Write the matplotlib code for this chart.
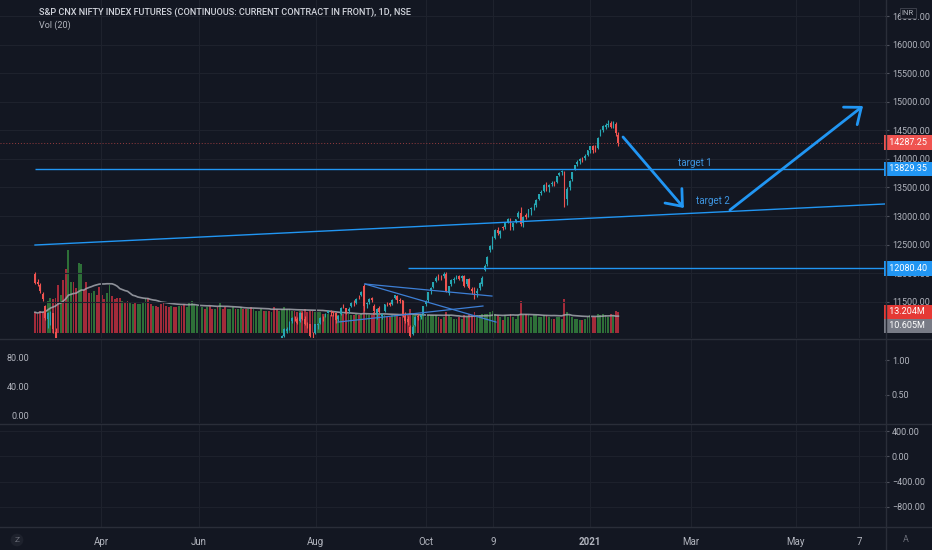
import numpy as np
import pandas as pd
import matplotlib
matplotlib.use("Agg")
import matplotlib.pyplot as plt

# ---- data: daily bars (Feb 24 2020 .. Jan 18 2021), bar index on x ----
opens = [
    # feb / mar
    11990, 11840, 11790, 11640, 11420, 11190, 11180, 11290, 10960, 10700, 10420, 10300, 9550,
    8600, 9450, 9600, 9300, 8300, 8250, 8400, 7950, 8000, 8000, 8450, 8700, 8600,
    # apr
    8580, 8300, 8450, 8700, 9150, 9050, 9050, 9100, 9050, 9250, 9200, 9050, 9250, 9250, 9200, 9320, 9420, 9700,
    # may
    9550, 9300, 9260, 9250, 9300, 9300, 9530, 9300, 9150, 9180, 9370, 9160, 9070, 9150, 9080, 8950, 9100, 9350, 9530,
    # jun
    9600, 9880, 10000, 10070, 10040, 10200, 10170, 10000, 10070, 9750, 9900, 9900, 9900, 9920, 10100, 10320,
    10280, 10330, 10400, 10350, 10320, 10350,
    # jul
    10350, 10450, 10570, 10650, 10770, 10720, 10830, 10780, 10800, 10650, 10660, 10760, 10900, 10980, 11020,
    11150, 11200, 11200, 11150, 11300, 11200, 11120, 11100,
    # aug
    10900, 10950, 11080, 11120, 11230, 11260, 11300, 11320, 11320, 11300, 11200, 11280, 11420, 11380, 11330,
    11420, 11480, 11480, 11570, 11610, 11780,
    # sep
    11450, 11490, 11560, 11420, 11300, 11380, 11250, 11330, 11480, 11480, 11450, 11560, 11600, 11520, 11520,
    11250, 11200, 11050, 10930, 11080, 11250, 11230,
    # oct
    11280, 11450, 11520, 11680, 11760, 11860, 11950, 11950, 11950, 11990, 11650, 11800, 11880, 11930, 11950,
    11910, 11950, 11800, 11900, 11720, 11690,
    # nov
    11650, 11730, 11800, 12050, 12150, 12400, 12500, 12620, 12760, 12680, 12800, 12800, 12900, 12950, 12800,
    12900, 12980, 13060, 12880, 13020,
    # dec
    13000, 13130, 13150, 13200, 13300, 13400, 13430, 13560, 13500, 13560, 13600, 13600, 13720, 13780, 13780,
    13300, 13500, 13650, 13820, 13920, 13960, 14010,
    # jan
    14020, 14070, 14150, 14230, 14160, 14200, 14420, 14510, 14560, 14600, 14630, 14590, 14620, 14420,
]
highs = [
    12010, 11890, 11830, 11670, 11440, 11320, 11340, 11300, 11040, 10760, 10550, 10320, 9620,
    9950, 9700, 9650, 9380, 8600, 8800, 8450, 8050, 8200, 8380, 8750, 8800, 8620,
    8600, 8330, 8820, 8820, 9160, 9080, 9130, 9150, 9280, 9300, 9220, 9220, 9330, 9270, 9300, 9400, 9580, 9890,
    9570, 9350, 9310, 9260, 9320, 9350, 9580, 9330, 9240, 9410, 9390, 9180, 9150, 9200, 9100, 9060, 9320, 9520, 9600,
    9850, 9990, 10080, 10090, 10160, 10310, 10200, 10140, 10090, 9990, 9950, 9960, 9950, 10060, 10260, 10340,
    10310, 10460, 10430, 10360, 10400, 10390,
    10450, 10570, 10620, 10780, 10800, 10810, 10850, 10800, 10810, 10700, 10760, 10920, 11040, 11050, 11150,
    11230, 11240, 11230, 11310, 11320, 11250, 11140, 11110,
    10960, 11110, 11120, 11230, 11250, 11300, 11350, 11350, 11330, 11310, 11270, 11400, 11460, 11390, 11400,
    11490, 11520, 11560, 11610, 11690, 11800,
    11500, 11560, 11580, 11450, 11380, 11430, 11300, 11460, 11500, 11500, 11540, 11620, 11610, 11560, 11530,
    11310, 11250, 11080, 11080, 11250, 11280, 11280,
    11430, 11520, 11670, 11760, 11850, 11940, 11990, 11970, 12010, 12020, 11780, 11900, 11930, 11960, 11970,
    11960, 11960, 11900, 11920, 11760, 11750,
    11740, 11840, 11940, 12150, 12300, 12490, 12650, 12770, 12800, 12750, 12830, 12900, 12960, 12970, 12880,
    12950, 13080, 13150, 13000, 13050,
    13130, 13160, 13220, 13290, 13390, 13450, 13560, 13590, 13560, 13610, 13620, 13710, 13780, 13800, 13790,
    13500, 13640, 13780, 13900, 13980, 14020, 14040,
    14080, 14160, 14230, 14250, 14250, 14380, 14520, 14600, 14640, 14680, 14660, 14670, 14650, 14480,
]
lows = [
    11800, 11770, 11650, 11510, 11170, 11040, 11080, 10950, 10760, 10300, 10380, 9520, 8950,
    8560, 9100, 9150, 8450, 8100, 8000, 7550, 7520, 7900, 7950, 8380, 8400, 8200,
    8250, 8050, 8420, 8680, 8980, 8900, 8900, 8900, 9020, 9100, 8950, 9000, 9200, 9110, 9150, 9280, 9400, 9690,
    9260, 9150, 9170, 9110, 9200, 9150, 9370, 9170, 9100, 9170, 9150, 9050, 8990, 9020, 8860, 8900, 9090, 9330, 9440,
    9590, 9850, 9960, 9960, 10000, 10150, 10010, 9980, 9880, 9560, 9750, 9720, 9830, 9880, 10090, 10190,
    10220, 10320, 10280, 10200, 10250, 10260,
    10320, 10430, 10540, 10640, 10680, 10690, 10740, 10720, 10580, 10560, 10600, 10750, 10870, 10950, 11000,
    11120, 11150, 11100, 11140, 11170, 11080, 11040, 10880,
    10850, 10930, 11010, 11110, 11150, 11230, 11290, 11250, 11250, 11120, 11150, 11270, 11380, 11280, 11300,
    11400, 11430, 11460, 11540, 11600, 11340,
    11380, 11460, 11490, 11300, 11200, 11300, 11190, 11310, 11420, 11420, 11440, 11540, 11480, 11470, 11220,
    11130, 11080, 10880, 10910, 11070, 11180, 11190,
    11270, 11420, 11500, 11640, 11730, 11840, 11880, 11870, 11920, 11660, 11620, 11780, 11830, 11890, 11870,
    11860, 11760, 11780, 11720, 11640, 11550,
    11580, 11700, 11780, 12030, 12130, 12370, 12420, 12600, 12660, 12620, 12760, 12780, 12880, 12760, 12760,
    12870, 12960, 12820, 12800, 12950,
    12980, 13020, 13100, 13150, 13280, 13360, 13420, 13440, 13420, 13530, 13530, 13580, 13700, 13720, 13150,
    13200, 13450, 13620, 13800, 13880, 13920, 13950,
    13990, 14050, 14100, 14100, 14120, 14180, 14400, 14480, 14520, 14560, 14540, 14550, 14400, 14230,
]
closes = [
    11830, 11800, 11680, 11540, 11210, 11290, 11310, 11010, 10820, 10460, 10480, 9600, 9180,
    9900, 9600, 9200, 8480, 8520, 8750, 7620, 7800, 7950, 8330, 8650, 8640, 8250,
    8270, 8090, 8790, 8800, 9000, 8990, 8920, 8980, 9260, 9240, 8990, 9190, 9300, 9150, 9280, 9380, 9560, 9860,
    9290, 9200, 9270, 9200, 9250, 9240, 9380, 9200, 9140, 9380, 9160, 9070, 9110, 9060, 8880, 9030, 9300, 9500, 9580,
    9830, 9980, 10060, 10030, 10140, 10170, 10050, 10120, 9900, 9970, 9820, 9870, 9910, 10050, 10250, 10230,
    10300, 10450, 10380, 10290, 10380, 10300,
    10430, 10560, 10600, 10760, 10720, 10800, 10770, 10790, 10600, 10620, 10740, 10900, 11020, 11010, 11130,
    11210, 11190, 11130, 11300, 11200, 11100, 11070, 10900,
    10890, 11100, 11100, 11210, 11220, 11280, 11330, 11310, 11300, 11180, 11250, 11390, 11410, 11310, 11370,
    11470, 11470, 11550, 11560, 11660, 11420,
    11480, 11540, 11530, 11340, 11360, 11320, 11280, 11450, 11470, 11440, 11530, 11610, 11520, 11510, 11250,
    11160, 11140, 10900, 11060, 11230, 11230, 11260,
    11420, 11500, 11660, 11740, 11840, 11920, 11940, 11940, 11980, 11690, 11770, 11880, 11900, 11940, 11900,
    11940, 11780, 11890, 11740, 11680, 11650,
    11690, 11830, 11920, 12130, 12280, 12470, 12640, 12760, 12700, 12730, 12790, 12880, 12950, 12780, 12870,
    12940, 13060, 12860, 12990, 12980,
    13120, 13140, 13160, 13280, 13380, 13420, 13550, 13500, 13540, 13580, 13590, 13700, 13760, 13790, 13350,
    13480, 13620, 13770, 13890, 13950, 14000, 14000,
    14050, 14150, 14220, 14160, 14150, 14370, 14500, 14580, 14590, 14620, 14570, 14600, 14450, 14287.25,
]
volumes = [  # millions
    13, 12, 14, 13, 15, 20, 22, 21, 22, 30, 24, 33, 40, 52, 32, 32, 28, 44, 43, 27, 32, 25, 25, 26, 24, 29,
    24, 21, 25, 30, 23, 21, 22, 22, 20, 19, 20, 19, 18, 19, 18, 18, 19, 22,
    22, 18, 17, 17, 16, 18, 19, 17, 16, 17, 16, 16, 17, 17, 18, 16, 19, 20, 18,
    17, 16, 16, 15, 16, 17, 15, 15, 16, 19, 15, 16, 15, 15, 16, 15, 15, 16, 15, 15, 15, 16,
    15, 14, 14, 15, 14, 14, 14, 13, 16, 15, 14, 15, 16, 15, 15, 14, 14, 13, 14, 14, 15, 13, 14,
    14, 13, 13, 13, 12, 12, 12, 11, 11, 12, 11, 12, 12, 13, 12, 11, 11, 12, 11, 12, 17,
    12, 11, 11, 13, 12, 11, 12, 11, 10, 10, 11, 11, 11, 10, 13, 12, 12, 15, 12, 11, 10, 10,
    11, 10, 11, 11, 11, 11, 10, 9, 10, 13, 11, 10, 9, 9, 10, 9, 11, 10, 12, 11, 13,
    11, 11, 12, 12, 12, 13, 14, 12, 11, 10, 8, 11, 10, 12, 10, 9, 11, 20, 11, 12,
    11, 10, 11, 11, 10, 10, 11, 11, 10, 9, 9, 10, 10, 9, 21, 13, 11, 10, 9, 9, 8, 8,
    9, 10, 11, 10, 10, 12, 11, 12, 11, 10, 12, 11, 14, 13.204,
]

title = "S&P CNX NIFTY INDEX FUTURES (CONTINUOUS: CURRENT CONTRACT IN FRONT), 1D, NSE"
time_tick_pos = [25.7, 63.8, 109.3, 152.1, 178.2, 215.9, 255.3, 296.1, 320.6]
time_tick_lbl = ["Apr", "Jun", "Aug", "Oct", "9", "2021", "Mar", "May", "7"]
price_ticks = [11500, 12000, 12500, 13000, 13500, 14000, 14500, 15000, 15500, 16000, 16500]
pane2_left = [80, 40, 0]
pane2_right = [1.0, 0.5]
pane3_ticks = [400, 0, -400, -800]
pane3_lbl = ["400.00", "0.00", "\u2212400.00", "\u2212800.00"]

# drawings (bar index, price)
support1 = 13829.35
support2 = 12080.40
support2_start = 145
trend_x = [0, 330.7]
trend_y = [12491, 13211]
tri_lines = [([128.4, 177.8], [11807, 11596]),
             ([128.4, 179.4], [11807, 11140]),
             ([117.9, 174.3], [11140, 11421])]
arrow_down = ((228.8, 14386), (252.5, 13140))
arrow_up = ((270.4, 13105), (322.2, 14930))
target1 = (256.8, 13930)
target2 = (263.8, 13263)
last_price = 14287.25
last_vol = 13.204
vol_ma_last = 10.605

BG = '#131722'
GRID = '#1e222d'
SEP = '#2a2e39'
TXT = '#b2b5be'
UP = '#26a6b2'
DOWN = '#ef5350'
VUP = '#2e7038'
VDN = '#a32b3a'
BLUE = '#2196f3'

W, H = 932, 550


def rect(x0, y0, x1, y1):
    return [x0 / W, 1 - y1 / H, (x1 - x0) / W, (y1 - y0) / H]


o = np.array(opens, float)
h = np.array(highs, float)
l = np.array(lows, float)
c = np.array(closes, float)
v = np.array(volumes, float)
assert len(o) == len(h) == len(l) == len(c) == len(v)
idx = np.arange(len(c))
up = c >= o
vol_ma = pd.Series(v).rolling(20, min_periods=1).mean()

plt.rcParams['font.family'] = ['Roboto', 'DejaVu Sans']
fig = plt.figure(figsize=(W / 100, H / 100), dpi=100, facecolor=BG)

ax_v = fig.add_axes(rect(0, 0, 885, 338), facecolor=BG)
ax = fig.add_axes(rect(0, 0, 885, 338), sharex=ax_v)
ax.patch.set_alpha(0)
ax2 = fig.add_axes(rect(0, 339, 885, 423), sharex=ax_v, facecolor=BG)
ax3 = fig.add_axes(rect(0, 424, 885, 527), sharex=ax_v, facecolor=BG)

for a in (ax_v, ax, ax2, ax3):
    for s in a.spines.values():
        s.set_visible(False)
    a.tick_params(axis='x', bottom=False, labelbottom=False)
    for tp in time_tick_pos:
        a.axvline(tp, color=GRID, lw=0.8, zorder=0)

ax_v.set_xlim(-13.62, 330.74)

# volume
ax_v.bar(idx, v, width=0.72, color=np.where(up, VUP, VDN), lw=0)
ax_v.plot(idx, vol_ma, color='#a3a6ae', lw=1.2, alpha=0.85)
ax_v.set_ylim(-3.1, 208)
ax_v.set_yticks([])

# price pane
ax.set_ylim(10860, 16789)
for pt in price_ticks:
    ax.axhline(pt, color=GRID, lw=0.8, zorder=0)
ccol = np.where(up, UP, DOWN)
ax.vlines(idx, l, h, colors=ccol, lw=0.8, zorder=3)
ax.bar(idx, np.maximum(np.abs(c - o), 10), bottom=np.minimum(o, c), width=0.7,
       color=ccol, lw=0, zorder=3)

ax.yaxis.tick_right()
ax.set_yticks(price_ticks, ['%.2f' % p for p in price_ticks])
ax.tick_params(axis='y', colors=TXT, labelsize=6.5, length=3, pad=2)
ax.tick_params(axis='y', color='#50535e')

ax.axhline(last_price, color=DOWN, lw=0.7, ls=(0, (1, 2)), alpha=0.6, zorder=2)
ax.hlines(support1, 0, 340, color=BLUE, lw=1, zorder=4)
ax.hlines(support2, support2_start, 340, color=BLUE, lw=1, zorder=4)
ax.plot(trend_x, trend_y, color=BLUE, lw=1, zorder=4)
for xs, ys in tri_lines:
    ax.plot(xs, ys, color='#3d7fd6', lw=0.9, zorder=4)
for start, end in (arrow_down, arrow_up):
    ax.annotate('', xy=end, xytext=start,
                arrowprops=dict(arrowstyle='->,head_length=1.0,head_width=0.8', color=BLUE,
                                lw=2.0, mutation_scale=10, shrinkA=0, shrinkB=0), zorder=5)
ax.text(*target1, 'target 1', color='#3e95e0', fontsize=7, ha='center', va='center', zorder=5)
ax.text(*target2, 'target 2', color='#3e95e0', fontsize=7, ha='center', va='center', zorder=5)

# coloured value boxes on the price scale
box = dict(boxstyle='square,pad=0.3', ec='none')
ytr = ax.get_yaxis_transform()
for val, txt, col in ((last_price, '14287.25', DOWN), (support1, '13829.35', BLUE),
                      (support2, '12080.40', BLUE)):
    ax.text(1.002, val, ' ' + txt + '  ', transform=ytr, ha='left', va='center', fontsize=6.5,
            color='white', bbox=dict(box, fc=col), clip_on=False, zorder=10)

vtr = ax_v.get_yaxis_transform()
ax_v.annotate(' 13.204M  ', xy=(1.002, last_vol), xycoords=vtr, ha='left', va='center',
              fontsize=6.5, color='white', annotation_clip=False, bbox=dict(box, fc='#e53935'))
ax_v.annotate(' 10.605M  ', xy=(1.002, vol_ma_last), xycoords=vtr, xytext=(0, -7),
              textcoords='offset points', ha='left', va='center', fontsize=6.5, color='white',
              annotation_clip=False, bbox=dict(box, fc='#787b86'))

# pane 2
ax2.set_ylim(-9.7, 104.8)
ax2.set_yticks(pane2_left, ['%.2f' % t for t in pane2_left])
ax2.tick_params(axis='y', colors=TXT, labelsize=6.5, length=0, pad=-21)
ax2r = ax2.twinx()
for s in ax2r.spines.values():
    s.set_visible(False)
ax2r.set_ylim(0.088, 1.31)
ax2r.set_yticks(pane2_right, ['%.2f' % t for t in pane2_right])
ax2r.tick_params(axis='y', colors=TXT, labelsize=6.5, length=3, pad=2)
ax2r.tick_params(axis='y', color='#50535e')

# pane 3
ax3.set_ylim(-1120, 512)
ax3.yaxis.tick_right()
ax3.set_yticks(pane3_ticks, pane3_lbl)
ax3.tick_params(axis='y', colors=TXT, labelsize=6.5, length=3, pad=2)
ax3.tick_params(axis='y', color='#50535e')
for t in pane3_ticks:
    ax3.axhline(t, color=GRID, lw=0.7, zorder=0)

ax3.tick_params(axis='x', labelbottom=True, length=0, pad=7, labelsize=7, labelcolor=TXT)
ax3.set_xticks(time_tick_pos, time_tick_lbl)
ax3.get_xticklabels()[time_tick_lbl.index('2021')].set_fontweight('bold')

# separators
for y in (338.5, 423.5, 527):
    fig.add_artist(plt.Line2D([0, 1], [1 - y / H, 1 - y / H], color=SEP, lw=1))
fig.add_artist(plt.Line2D([885.5 / W, 885.5 / W], [0, 1], color=SEP, lw=1))

fig.text(39 / W, 1 - 12 / H, title, color='#d1d4dc', fontsize=6.6, fontweight='medium', va='center')
fig.text(39 / W, 1 - 25 / H, 'Vol (20)', color=TXT, fontsize=6.5, va='center')
fig.text(908 / W, 1 - 13 / H, 'INR', color=TXT, fontsize=5.5, ha='center', va='center',
         bbox=dict(boxstyle='square,pad=0.3', fc=BG, ec='#434651', lw=0.6), zorder=20)
fig.text(17 / W, 1 - 540 / H, 'Z', color='#6a6d78', fontsize=6, ha='center', va='center',
         bbox=dict(boxstyle='circle,pad=0.4', fc='#1e222d', ec='none'))
fig.text(906 / W, 1 - 540 / H, 'A', color='#6a6d78', fontsize=6.5, ha='center', va='center')

fig.savefig('out.png', dpi=100, facecolor=BG)
